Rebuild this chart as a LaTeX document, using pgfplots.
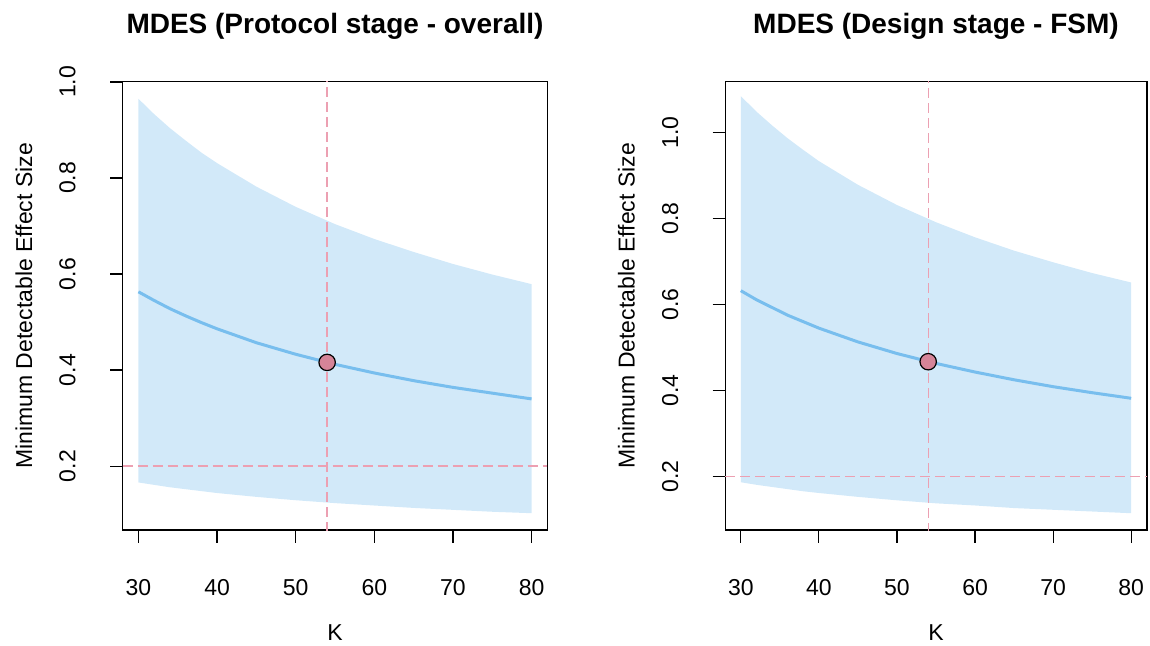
\documentclass[border=0pt]{standalone}
\usepackage{fontspec}
\setmainfont{Liberation Sans}
\usepackage{pgfplots}
\pgfplotsset{compat=1.18}

\definecolor{band}{RGB}{210,233,249}
\definecolor{mline}{RGB}{120,190,238}
\definecolor{refl}{RGB}{236,160,178}
\definecolor{dot}{RGB}{214,132,152}

\pgfplotsset{
  mdes/.style={
    scale only axis, height=224.15pt,
    xmin=28, xmax=82, xtick={30,40,50,60,70,80},
    ytick={0.2,0.4,0.6,0.8,1.0},
    tick pos=left, tick align=outside, major tick length=6.25pt,
    tick style={black, line width=0.6pt},
    axis line style={line width=0.7pt},
    /pgf/number format/assume math mode=true,
    ticklabel style={font=\fontsize{11.5}{13}\selectfont},
    xticklabel style={anchor=base, yshift=-26.5pt},
    yticklabel style={xshift=-17.35pt, rotate=90, anchor=base,
      /pgf/number format/fixed, /pgf/number format/precision=1,
      /pgf/number format/fixed zerofill},
    every axis title/.style={at={(axis description cs:0.5,1)}, anchor=base,
      yshift=24.3pt, font=\bfseries\fontsize{14}{16}\selectfont},
    every axis x label/.style={at={(axis description cs:0.5,0)}, anchor=base,
      yshift=-55pt, font=\fontsize{11.5}{13}\selectfont},
    every axis y label/.style={at={(axis description cs:0,0.5)}, xshift=-45.3pt,
      rotate=90, anchor=base, font=\fontsize{11.5}{13}\selectfont},
    xlabel={K}, ylabel={Minimum Detectable Effect Size},
  },
  refline/.style={draw=refl, line width=0.65pt, dash pattern=on 5pt off 2.5pt},
}

\begin{document}
\begin{tikzpicture}
\path[use as bounding box] (0,0) rectangle (575pt,322.5pt);

% left panel
\begin{axis}[mdes, at={(61.35pt,57.5pt)}, anchor=south west, width=212.3pt,
  ymin=0.067, ymax=1.0005, title={MDES (Protocol stage - overall)}]
\addplot[draw=none, fill=band] coordinates {
  (30,0.965) (32,0.933) (34,0.904) (36,0.878) (38,0.853) (40,0.831) (45,0.782)
  (50,0.740) (55,0.704) (60,0.673) (65,0.646) (70,0.621) (75,0.599) (80,0.579)
  (80,0.102) (75,0.105) (70,0.109) (65,0.113) (60,0.118) (55,0.123) (50,0.129)
  (45,0.136) (40,0.144) (38,0.148) (36,0.152) (34,0.156) (32,0.161) (30,0.166)} -- cycle;
\addplot[mline, line width=1.5pt] coordinates {
  (30,0.563) (32,0.545) (34,0.528) (36,0.513) (38,0.499) (40,0.486) (45,0.457)
  (50,0.433) (55,0.412) (60,0.394) (65,0.378) (70,0.364) (75,0.352) (80,0.340)};
\addplot[only marks, mark=*, mark size=4.1pt, mark options={fill=dot, draw=black, line width=0.6pt}]
  coordinates {(54,0.416)};
\addplot[refline] coordinates {(54,0) (54,1.2)};
\addplot[refline] coordinates {(28,0.2) (82,0.2)};
\end{axis}

% right panel
\begin{axis}[mdes, at={(362.6pt,57.5pt)}, anchor=south west, width=210.8pt,
  ymin=0.076, ymax=1.1175, title={MDES (Design stage - FSM)}]
\addplot[draw=none, fill=band] coordinates {
  (30,1.084) (32,1.048) (34,1.016) (36,0.986) (38,0.959) (40,0.933) (45,0.878)
  (50,0.831) (55,0.791) (60,0.756) (65,0.725) (70,0.698) (75,0.673) (80,0.651)
  (80,0.115) (75,0.119) (70,0.123) (65,0.127) (60,0.133) (55,0.138) (50,0.145)
  (45,0.153) (40,0.162) (38,0.166) (36,0.171) (34,0.176) (32,0.181) (30,0.187)} -- cycle;
\addplot[mline, line width=1.5pt] coordinates {
  (30,0.632) (32,0.611) (34,0.593) (36,0.575) (38,0.560) (40,0.545) (45,0.513)
  (50,0.486) (55,0.463) (60,0.443) (65,0.425) (70,0.409) (75,0.395) (80,0.382)};
\addplot[only marks, mark=*, mark size=4.1pt, mark options={fill=dot, draw=black, line width=0.6pt}]
  coordinates {(54,0.467)};
\addplot[refline] coordinates {(54,0) (54,1.3)};
\addplot[refline] coordinates {(28,0.2) (82,0.2)};
\end{axis}
\end{tikzpicture}
\end{document}
